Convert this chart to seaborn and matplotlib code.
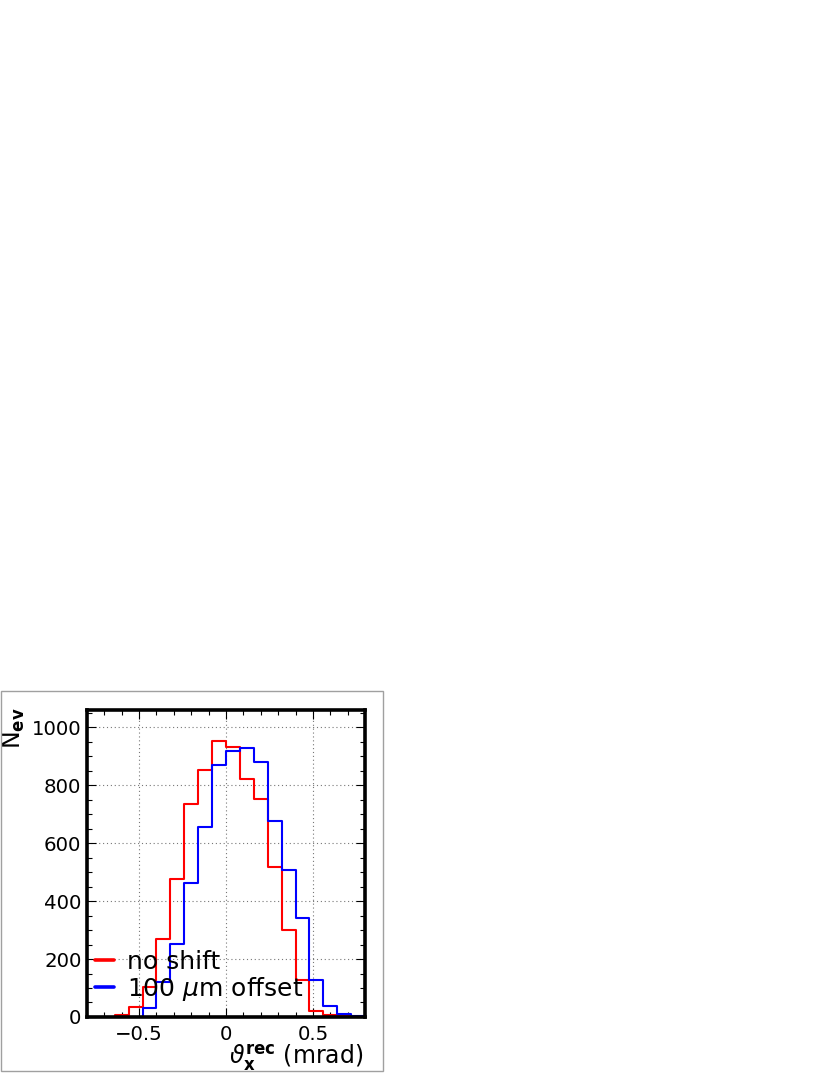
import matplotlib
matplotlib.use("Agg")
import matplotlib.pyplot as plt
from matplotlib.lines import Line2D
from matplotlib.patches import Rectangle
from matplotlib.ticker import MultipleLocator
import numpy as np
import pandas as pd
import seaborn as sns

# Bin edges of the histogram (mrad)
bin_edges = [-0.80, -0.72, -0.64, -0.56, -0.48, -0.40, -0.32, -0.24, -0.16, -0.08,
             0.00, 0.08, 0.16, 0.24, 0.32, 0.40, 0.48, 0.56, 0.64, 0.72, 0.80]

# Counts per bin
no_shift = [0, 0, 8, 34, 103, 270, 477, 736, 851, 952,
            933, 822, 753, 517, 299, 128, 20, 6, 2, 0]
offset_100um = [0, 0, 0, 0, 32, 121, 253, 462, 655, 871,
                917, 928, 879, 676, 508, 341, 128, 37, 9, 3]

series_labels = ["no shift", r"100 $\mu$m offset"]
series_colors = ["#ff0000", "#0000ff"]

edges = np.array(bin_edges)
centers = (edges[:-1] + edges[1:]) / 2
df = pd.DataFrame({
    "theta": np.concatenate([centers, centers]),
    "count": no_shift + offset_100um,
    "series": [series_labels[0]] * len(no_shift) + [series_labels[1]] * len(offset_100um),
})

sns.set_style("ticks")
plt.rcParams["font.family"] = ["DejaVu Sans"]
plt.rcParams["mathtext.fontset"] = "dejavusans"
for key in ["text.color", "axes.labelcolor", "xtick.color", "ytick.color"]:
    plt.rcParams[key] = "black"

fig = plt.figure(figsize=(8.3, 10.75), dpi=100)
ax = fig.add_axes([0.1048, 0.054, 0.3350, 0.2856])

for lab, col in zip(series_labels, series_colors):
    sub = df[df["series"] == lab]
    sns.histplot(data=sub, x="theta", weights="count", bins=list(bin_edges),
                 element="step", fill=False, color=col, linewidth=1.5, ax=ax)

ax.set_xlim(-0.8, 0.8)
ax.set_ylim(0, 1060)

ax.xaxis.set_major_locator(MultipleLocator(0.5))
ax.xaxis.set_minor_locator(MultipleLocator(0.1))
ax.yaxis.set_major_locator(MultipleLocator(200))
ax.yaxis.set_minor_locator(MultipleLocator(50))
ax.set_xticks([-0.5, 0, 0.5])
ax.set_xticklabels(["\u22120.5", "0", "0.5"])

ax.tick_params(which="both", direction="in", top=True, right=True, labelsize=14.2)
ax.tick_params(which="major", length=6.5, width=0.8)
ax.tick_params(which="minor", length=3.5, width=0.8)
ax.tick_params(axis="x", pad=6)
ax.tick_params(axis="y", pad=4)

ax.grid(True, which="major", linestyle=(0, (1, 2.5)), color="#777777", linewidth=0.8)
ax.set_axisbelow(True)

for sp in ax.spines.values():
    sp.set_linewidth(2.6)
    sp.set_color("black")

ax.set_xlabel(r"$\vartheta_{\mathbf{x}}^{\mathbf{rec}}$ (mrad)", fontsize=17, loc="right")
ax.xaxis.set_label_coords(0.995, -0.083)
ax.set_ylabel(r"N$_{\mathbf{ev}}$", fontsize=17, loc="top")
ax.yaxis.label.set_va("center")
ax.yaxis.set_label_coords(-0.262, 1.007)

handles = [Line2D([], [], color=c, linewidth=2.6) for c in series_colors]
ax.legend(handles, series_labels, loc="lower left", bbox_to_anchor=(0.03, 0.045),
          frameon=False, fontsize=18, handlelength=0.75, handletextpad=0.5,
          labelspacing=0.05, borderpad=0, borderaxespad=0)

# thin grey canvas frame around the pad
fig.add_artist(Rectangle((1 / 830, 4 / 1075), 382 / 830, 380 / 1075,
                         transform=fig.transFigure, fill=False,
                         edgecolor="#a0a0a0", linewidth=1.0))

fig.savefig("out.png", dpi=100)
plt.close(fig)
